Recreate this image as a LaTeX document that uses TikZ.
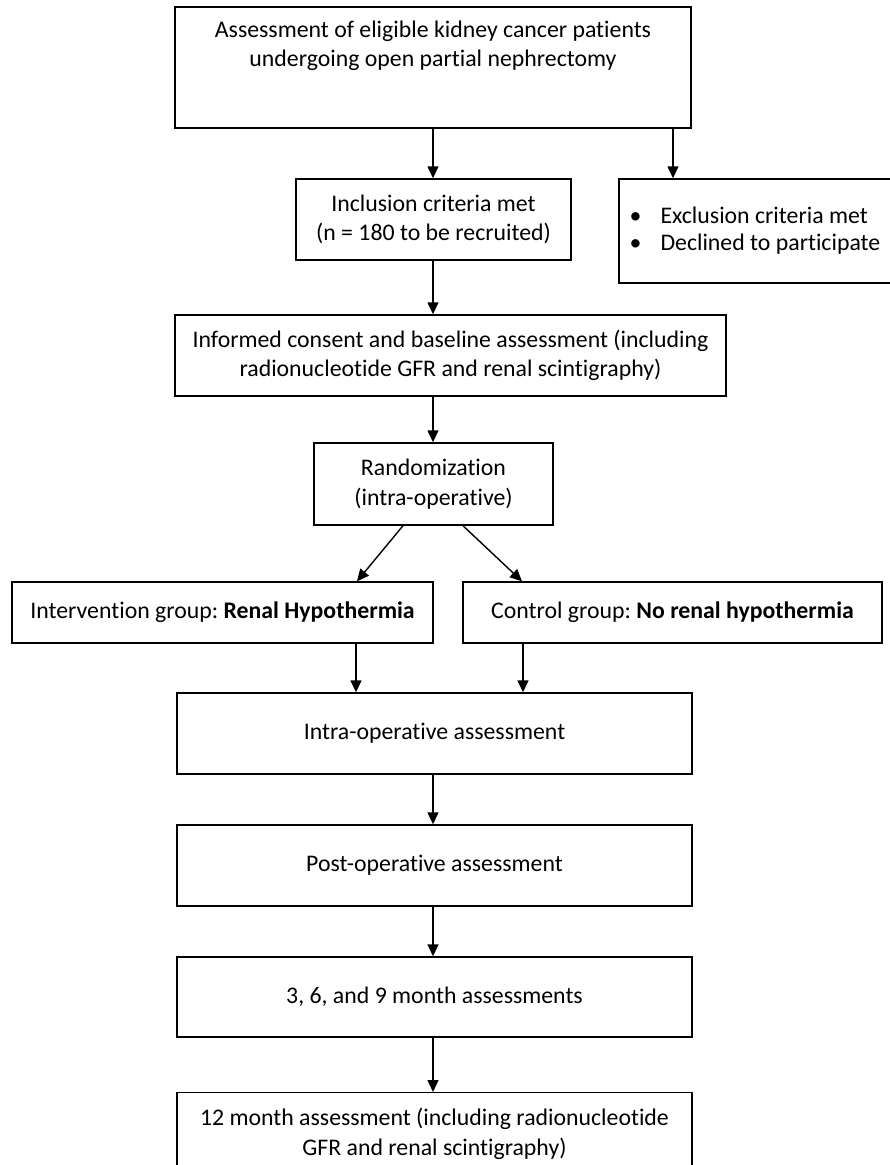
\documentclass[tikz,border=0pt]{standalone}
\usepackage{fontspec}
\setmainfont{Carlito}[Ligatures=NoCommon]
\usetikzlibrary{arrows.meta}
\frenchspacing
\begin{document}
\begin{tikzpicture}[x=1pt,y=-1pt,
  box/.style={draw, line width=1.4pt, inner sep=0pt, align=center,
    font=\fontsize{23.8}{29.5}\selectfont},
  txt/.style={inner sep=0pt, align=center, font=\fontsize{23.8}{29.5}\selectfont},
  arr/.style={line width=1.4pt, -{Triangle[width=11pt,length=12pt]}}]
\useasboundingbox (0,0) rectangle (890,1165);
\fill[white] (0,0) rectangle (890,1165);
\begin{scope}
\clip (0,0) rectangle (890,1165);
\node[box, minimum width=516pt, minimum height=121pt] (b1) at (433,67.5) {};
\node[txt] (t1) at (433,46)
  {Assessment of eligible kidney cancer patients\\undergoing open partial nephrectomy};
\node[box, minimum width=275pt, minimum height=81pt] (b2) at (433.5,219.5)
  {Inclusion criteria met\\(n = 180 to be recruited)};
\node[box, minimum width=272pt, minimum height=104pt] (ex) at (755,231)
  {\begin{tabular}{@{}l@{\hspace{19pt}}l@{}}\textbullet & Exclusion criteria met\\[-3pt]
   \textbullet & Declined to participate\end{tabular}};
\node[box, minimum width=551pt, minimum height=81pt] (b3) at (450.5,355.5)
  {Informed consent and baseline assessment (including\\radionucleotide GFR and renal scintigraphy)};
\node[box, minimum width=239pt, minimum height=82pt] (b4) at (433.5,484)
  {Randomization\\(intra-operative)};
\node[box, minimum width=421pt, minimum height=61pt] (b5) at (222.5,612.5)
  {Intervention group: \textbf{Renal Hypothermia}};
\node[box, minimum width=419pt, minimum height=61pt] (b6) at (672.5,612.5)
  {Control group: \textbf{No renal hypothermia}};
\node[box, minimum width=515pt, minimum height=81pt] (b7) at (434.5,733.5)
  {Intra-operative assessment};
\node[box, minimum width=515pt, minimum height=81pt] (b8) at (434.5,865.5)
  {Post-operative assessment};
\node[box, minimum width=515pt, minimum height=80pt] (b9) at (434.5,997)
  {3, 6, and 9 month assessments};
\node[box, minimum width=515pt, minimum height=82pt, anchor=north] (b10) at (434.5,1092)
  {12 month assessment (including radionucleotide\\GFR and renal scintigraphy)};
\end{scope}
\coordinate (xa) at (433,0);
\coordinate (xb) at (673,0);
\coordinate (xc) at (403,0);
\coordinate (xd) at (357,0);
\coordinate (xe) at (463,0);
\coordinate (xf) at (522,0);
\coordinate (xg) at (356,0);
\coordinate (xh) at (523,0);
\draw[arr] (b1.south -| xa) -- (b2.north -| xa);
\draw[arr] (b1.south -| xb) -- (ex.north -| xb);
\draw[arr] (b2.south -| xa) -- (b3.north -| xa);
\draw[arr] (b3.south -| xa) -- (b4.north -| xa);
\draw[arr] (b4.south -| xc) -- (b5.north -| xd);
\draw[arr] (b4.south -| xe) -- (b6.north -| xf);
\draw[arr] (b5.south -| xg) -- (b7.north -| xg);
\draw[arr] (b6.south -| xh) -- (b7.north -| xh);
\draw[arr] (b7.south -| xa) -- (b8.north -| xa);
\draw[arr] (b8.south -| xa) -- (b9.north -| xa);
\draw[arr] (b9.south -| xa) -- (b10.north -| xa);
\end{tikzpicture}
\end{document}
